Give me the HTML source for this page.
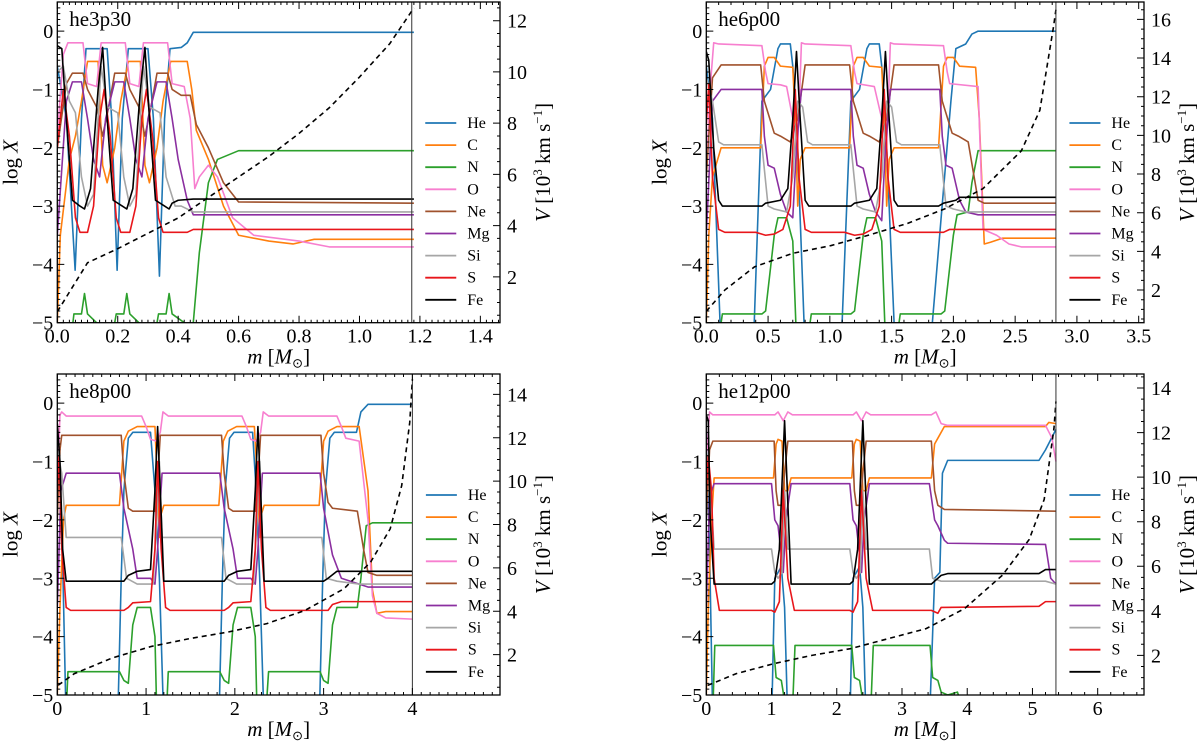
<!DOCTYPE html>
<html><head><meta charset="utf-8"><style>
html,body{margin:0;padding:0;background:#fff;}
svg{display:block;font-family:"Liberation Serif",serif;}
</style></head><body>
<svg id="fig" width="1200" height="744" viewBox="0 0 1200 744" xmlns="http://www.w3.org/2000/svg"></svg>
<script>
const species = ["He","C","N","O","Ne","Mg","Si","S","Fe"];
const colors = ["#1f77b4","#ff7f0e","#2ca02c","#f77fcf","#a0522d","#8b2fa0","#a6a6a6","#e8161b","#000000"];
const yTicks = [0,-1,-2,-3,-4,-5];

// ---- Panel 1: he3p30 ----
const p1_He=[[0,-0.6],[0.03,-1.5],[0.059,-4.1],[0.08,-1.5],[0.095,-0.3],[0.165,-0.3],[0.18,-1.5],[0.198,-4.1],[0.215,-1.5],[0.235,-0.3],[0.3,-0.3],[0.318,-1.5],[0.338,-4.2],[0.355,-1.5],[0.373,-0.3],[0.41,-0.28],[0.43,-0.2],[0.45,-0.02],[1.18,-0.02]];
const p1_C=[[0,-5],[0.01,-3.5],[0.04,-2.2],[0.06,-1.8],[0.08,-1.2],[0.1,-0.52],[0.135,-0.52],[0.15,-2.3],[0.165,-2.6],[0.19,-2.0],[0.21,-1.2],[0.235,-0.52],[0.275,-0.52],[0.29,-2.3],[0.305,-2.6],[0.33,-2.0],[0.35,-1.2],[0.375,-0.52],[0.43,-0.52],[0.445,-1.0],[0.46,-1.7],[0.5,-2.2],[0.55,-3.0],[0.6,-3.5],[0.7,-3.6],[0.78,-3.65],[0.85,-3.57],[1.18,-3.57]];
const p1_N=[[0.045,-5.3],[0.055,-4.85],[0.08,-4.85],[0.09,-4.5],[0.1,-4.85],[0.13,-5.0],[0.14,-5.3],[0.18,-5.3],[0.195,-4.85],[0.22,-4.85],[0.23,-4.5],[0.24,-4.85],[0.27,-5.0],[0.28,-5.3],[0.32,-5.3],[0.335,-4.85],[0.36,-4.85],[0.37,-4.5],[0.38,-4.85],[0.42,-5.0],[0.445,-5.3],[0.47,-3.8],[0.5,-2.6],[0.53,-2.2],[0.6,-2.05],[1.18,-2.05]];
const p1_O=[[0,-1.8],[0.02,-0.4],[0.035,-0.2],[0.085,-0.2],[0.1,-0.9],[0.13,-0.95],[0.145,-0.2],[0.225,-0.2],[0.24,-0.9],[0.27,-0.95],[0.285,-0.2],[0.365,-0.2],[0.38,-0.9],[0.42,-0.95],[0.44,-1.5],[0.455,-2.7],[0.47,-2.5],[0.5,-2.3],[0.53,-2.5],[0.58,-3.2],[0.65,-3.5],[0.8,-3.6],[0.9,-3.7],[1.18,-3.7]];
const p1_Ne=[[0,-2],[0.03,-0.9],[0.05,-0.72],[0.085,-0.72],[0.1,-1.0],[0.13,-1.3],[0.15,-1.8],[0.17,-1.3],[0.19,-0.72],[0.225,-0.72],[0.24,-1.0],[0.27,-1.3],[0.29,-1.8],[0.31,-1.3],[0.33,-0.72],[0.365,-0.72],[0.38,-1.0],[0.41,-1.1],[0.44,-1.1],[0.46,-1.6],[0.5,-2.0],[0.55,-2.6],[0.6,-2.93],[1.18,-2.95]];
const p1_Mg=[[0,-3.5],[0.03,-1.2],[0.05,-0.87],[0.08,-0.87],[0.1,-1.5],[0.12,-2.2],[0.14,-2.5],[0.16,-1.5],[0.19,-0.87],[0.22,-0.87],[0.24,-1.5],[0.26,-2.2],[0.28,-2.5],[0.3,-1.5],[0.33,-0.87],[0.36,-0.87],[0.38,-1.5],[0.4,-2.2],[0.43,-2.9],[0.45,-3.15],[1.18,-3.15]];
const p1_Si=[[0,-0.7],[0.02,-0.6],[0.04,-1.2],[0.06,-1.4],[0.08,-2.5],[0.1,-3.0],[0.12,-2.8],[0.145,-0.6],[0.165,-1.3],[0.2,-1.4],[0.22,-2.5],[0.24,-3.0],[0.26,-2.8],[0.285,-0.6],[0.305,-1.3],[0.34,-1.4],[0.36,-2.5],[0.39,-3.0],[0.41,-3.0],[0.45,-3.1],[1.18,-3.1]];
const p1_S=[[0,-2],[0.02,-1.0],[0.04,-1.8],[0.06,-3.2],[0.075,-3.45],[0.1,-3.45],[0.12,-3.0],[0.14,-1.5],[0.155,-1.0],[0.175,-1.8],[0.195,-3.2],[0.21,-3.45],[0.24,-3.45],[0.26,-3.0],[0.28,-1.5],[0.295,-1.0],[0.315,-1.8],[0.335,-3.2],[0.35,-3.45],[0.385,-3.45],[0.43,-3.45],[0.45,-3.4],[1.18,-3.4]];
const p1_Fe=[[0,-0.25],[0.015,-0.3],[0.03,-1.5],[0.05,-2.9],[0.075,-3.0],[0.09,-3.05],[0.11,-2.7],[0.135,-1.0],[0.15,-0.28],[0.165,-1.5],[0.185,-2.9],[0.215,-3.0],[0.23,-3.05],[0.25,-2.7],[0.275,-1.0],[0.29,-0.28],[0.305,-1.5],[0.325,-2.9],[0.355,-3.0],[0.37,-3.05],[0.38,-2.95],[0.4,-2.9],[0.45,-2.88],[1.18,-2.88]];
const p1_V=[[0,0.64],[0.1,2.55],[0.2,3.1],[0.3,3.7],[0.4,4.3],[0.5,5.1],[0.6,5.9],[0.7,6.7],[0.8,7.6],[0.9,8.6],[1.0,9.8],[1.1,11.1],[1.18,12.5]];
const p1_xTicks=[0,0.2,0.4,0.6,0.8,1.0,1.2,1.4];
const p1_xLabels=["0.0","0.2","0.4","0.6","0.8","1.0","1.2","1.4"];
const p1_vTicks=[2,4,6,8,10,12];

// ---- Panel 2: he6p00 ----
const p2_He=[[0,-0.6],[0.05,-1.5],[0.12,-5.5],[0.38,-5.5],[0.45,-1.2],[0.52,-1.0],[0.58,-0.3],[0.6,-0.22],[0.68,-0.22],[0.7,-0.6],[0.73,-1.5],[0.8,-5.5],[1.09,-5.5],[1.17,-1.2],[1.24,-1.0],[1.3,-0.3],[1.32,-0.22],[1.4,-0.22],[1.42,-0.6],[1.45,-1.5],[1.53,-5.5],[1.81,-5.5],[1.98,-1.2],[2.02,-0.3],[2.1,-0.22],[2.15,-0.05],[2.2,0],[2.83,0]];
const p2_C=[[0,-5],[0.02,-3.5],[0.05,-2.5],[0.12,-2.0],[0.44,-2.0],[0.47,-0.6],[0.5,-0.45],[0.55,-0.45],[0.6,-0.6],[0.7,-0.62],[0.72,-1.5],[0.74,-3.0],[0.76,-2.2],[0.8,-2.0],[1.16,-2.0],[1.19,-0.6],[1.22,-0.45],[1.27,-0.45],[1.32,-0.6],[1.42,-0.62],[1.44,-1.5],[1.46,-3.0],[1.48,-2.2],[1.52,-2.0],[1.88,-2.0],[1.92,-0.6],[1.95,-0.45],[2.0,-0.45],[2.05,-0.6],[2.18,-0.62],[2.21,-1.5],[2.25,-3.65],[2.3,-3.62],[2.4,-3.55],[2.83,-3.55]];
const p2_N=[[0.1,-5.3],[0.13,-4.85],[0.45,-4.85],[0.48,-4.8],[0.55,-3.5],[0.58,-3.2],[0.65,-3.2],[0.7,-3.6],[0.73,-5.3],[0.82,-5.3],[0.85,-4.85],[1.17,-4.85],[1.2,-4.8],[1.27,-3.5],[1.3,-3.2],[1.37,-3.2],[1.42,-3.6],[1.45,-5.3],[1.54,-5.3],[1.57,-4.85],[1.9,-4.85],[1.93,-4.8],[2.0,-3.5],[2.03,-3.15],[2.12,-3.1],[2.15,-2.6],[2.2,-2.05],[2.83,-2.05]];
const p2_O=[[0,-2.5],[0.03,-1],[0.06,-0.2],[0.1,-0.22],[0.45,-0.25],[0.48,-0.7],[0.5,-0.9],[0.6,-0.92],[0.65,-0.95],[0.7,-1.5],[0.74,-2.0],[0.77,-0.2],[0.8,-0.22],[1.17,-0.25],[1.2,-0.7],[1.22,-0.9],[1.36,-0.95],[1.42,-1.5],[1.46,-2.0],[1.49,-0.2],[1.52,-0.22],[1.92,-0.25],[1.95,-0.7],[1.97,-0.9],[2.2,-0.95],[2.24,-3.4],[2.35,-3.5],[2.45,-3.65],[2.55,-3.7],[2.83,-3.7]];
const p2_Ne=[[0,-2.5],[0.05,-0.8],[0.12,-0.58],[0.44,-0.58],[0.47,-1.2],[0.55,-1.75],[0.6,-1.8],[0.68,-1.9],[0.74,-1.5],[0.8,-0.58],[1.16,-0.58],[1.19,-1.2],[1.27,-1.75],[1.32,-1.8],[1.4,-1.9],[1.46,-1.5],[1.52,-0.58],[1.88,-0.58],[1.91,-1.2],[1.99,-1.75],[2.04,-1.8],[2.12,-1.9],[2.2,-2.9],[2.25,-2.95],[2.83,-2.95]];
const p2_Mg=[[0,-3.5],[0.05,-1.2],[0.12,-1.0],[0.45,-1.0],[0.47,-1.8],[0.5,-2.3],[0.55,-2.35],[0.6,-2.8],[0.65,-3.1],[0.7,-3.2],[0.73,-2.0],[0.77,-1.0],[1.17,-1.0],[1.19,-1.8],[1.22,-2.3],[1.27,-2.35],[1.32,-2.8],[1.37,-3.1],[1.42,-3.25],[1.45,-2.0],[1.49,-1.0],[1.89,-1.0],[1.91,-1.8],[1.94,-2.3],[1.99,-2.35],[2.05,-2.9],[2.1,-3.1],[2.2,-3.15],[2.83,-3.15]];
const p2_Si=[[0,-0.8],[0.05,-1.2],[0.1,-1.9],[0.14,-1.95],[0.45,-1.95],[0.5,-3.0],[0.55,-3.05],[0.65,-3.1],[0.7,-2.5],[0.74,-1.2],[0.78,-1.3],[0.82,-1.9],[0.86,-1.95],[1.17,-1.95],[1.22,-3.0],[1.27,-3.05],[1.37,-3.1],[1.42,-2.5],[1.46,-1.2],[1.5,-1.3],[1.54,-1.9],[1.58,-1.95],[1.89,-1.95],[1.94,-3.0],[2.0,-3.05],[2.1,-3.1],[2.83,-3.1]];
const p2_S=[[0,-1.6],[0.02,-0.9],[0.05,-2.5],[0.1,-3.4],[0.15,-3.45],[0.4,-3.45],[0.48,-3.5],[0.55,-3.48],[0.62,-3.4],[0.68,-3.0],[0.72,-1.0],[0.75,-2.5],[0.8,-3.4],[0.85,-3.45],[1.12,-3.45],[1.2,-3.5],[1.27,-3.48],[1.34,-3.4],[1.4,-3.0],[1.44,-1.0],[1.47,-2.5],[1.52,-3.4],[1.57,-3.45],[1.84,-3.45],[1.92,-3.45],[1.97,-3.4],[2.83,-3.4]];
const p2_Fe=[[0,-0.35],[0.02,-0.5],[0.06,-2.0],[0.1,-2.9],[0.13,-3.0],[0.45,-3.0],[0.48,-2.95],[0.6,-2.9],[0.66,-2.7],[0.7,-1.5],[0.73,-0.35],[0.76,-1.5],[0.8,-2.9],[0.83,-3.0],[1.17,-3.0],[1.2,-2.95],[1.32,-2.9],[1.38,-2.7],[1.42,-1.5],[1.45,-0.35],[1.48,-1.5],[1.52,-2.9],[1.55,-3.0],[1.88,-3.0],[1.92,-2.95],[2.02,-2.9],[2.05,-2.85],[2.83,-2.85]];
const p2_V=[[0,0.9],[0.15,2.0],[0.39,3.2],[0.7,3.9],[1.01,4.3],[1.32,4.85],[1.63,5.45],[1.93,6.2],[2.24,7.25],[2.55,9.2],[2.7,11.3],[2.81,15.6],[2.83,16.5]];
const p2_xTicks=[0,0.5,1.0,1.5,2.0,2.5,3.0,3.5];
const p2_xLabels=["0.0","0.5","1.0","1.5","2.0","2.5","3.0","3.5"];
const p2_vTicks=[2,4,6,8,10,12,14,16];

// ---- Panel 3: he8p00 ----
const p3_He=[[0,-0.6],[0.05,-2],[0.1,-5.5],[0.68,-5.5],[0.72,-3],[0.75,-1.5],[0.8,-0.6],[0.85,-0.5],[1.05,-0.5],[1.1,-1.5],[1.15,-3],[1.2,-5.5],[1.82,-5.5],[1.86,-3],[1.89,-1.5],[1.94,-0.6],[1.99,-0.5],[2.2,-0.5],[2.24,-1.5],[2.28,-3],[2.33,-5.5],[2.95,-5.5],[2.99,-3],[3.02,-1.5],[3.07,-0.6],[3.12,-0.5],[3.37,-0.5],[3.42,-0.15],[3.5,-0.02],[4.0,-0.02]];
const p3_C=[[0,-5],[0.03,-3.5],[0.07,-2.0],[0.1,-1.75],[0.7,-1.75],[0.75,-0.65],[0.8,-0.48],[0.9,-0.4],[1.1,-0.4],[1.13,-1.5],[1.15,-2.3],[1.17,-1.9],[1.2,-1.75],[1.82,-1.75],[1.87,-0.65],[1.92,-0.48],[2.02,-0.4],[2.22,-0.4],[2.26,-1.5],[2.28,-2.3],[2.3,-1.9],[2.33,-1.75],[2.95,-1.75],[3.0,-0.65],[3.05,-0.48],[3.15,-0.4],[3.4,-0.4],[3.5,-1.5],[3.55,-3.2],[3.6,-3.6],[3.7,-3.57],[4.0,-3.57]];
const p3_N=[[0.1,-5.3],[0.12,-4.6],[0.7,-4.6],[0.75,-4.75],[0.8,-4.8],[0.85,-3.8],[0.9,-3.5],[1.05,-3.5],[1.1,-4.0],[1.12,-5.3],[1.23,-5.3],[1.25,-4.6],[1.83,-4.6],[1.88,-4.75],[1.93,-4.8],[1.98,-3.8],[2.03,-3.5],[2.18,-3.5],[2.23,-4.0],[2.25,-5.3],[2.35,-5.3],[2.38,-4.6],[2.96,-4.6],[3.0,-4.75],[3.05,-4.8],[3.1,-3.8],[3.15,-3.5],[3.38,-3.5],[3.42,-3.0],[3.48,-2.1],[3.55,-2.05],[4.0,-2.05]];
const p3_O=[[0,-1.5],[0.03,-0.2],[0.05,-0.15],[0.1,-0.22],[0.95,-0.22],[1.0,-0.4],[1.05,-0.62],[1.12,-0.65],[1.16,-0.5],[1.19,-0.15],[1.25,-0.22],[2.08,-0.22],[2.13,-0.4],[2.18,-0.62],[2.24,-0.65],[2.29,-0.5],[2.32,-0.15],[2.38,-0.22],[3.15,-0.22],[3.2,-0.4],[3.25,-0.6],[3.4,-0.65],[3.5,-2.0],[3.55,-3.3],[3.6,-3.6],[3.7,-3.68],[4.0,-3.7]];
const p3_Ne=[[0,-2],[0.03,-0.8],[0.05,-0.55],[0.72,-0.55],[0.75,-1.2],[0.8,-1.8],[0.85,-1.85],[1.1,-1.85],[1.13,-1.3],[1.16,-0.55],[1.85,-0.55],[1.88,-1.2],[1.93,-1.8],[1.98,-1.85],[2.23,-1.85],[2.26,-1.3],[2.29,-0.55],[2.97,-0.55],[3.0,-1.2],[3.05,-1.7],[3.1,-1.8],[3.38,-1.85],[3.45,-2.5],[3.5,-2.9],[3.6,-2.95],[4.0,-2.95]];
const p3_Mg=[[0,-3.5],[0.04,-1.5],[0.1,-1.2],[0.7,-1.2],[0.75,-1.8],[0.85,-2.5],[0.9,-3.0],[1.05,-3.0],[1.1,-3.1],[1.13,-2.5],[1.18,-1.2],[1.83,-1.2],[1.88,-1.8],[1.98,-2.5],[2.03,-3.0],[2.18,-3.0],[2.23,-3.1],[2.26,-2.5],[2.31,-1.2],[2.96,-1.2],[3.0,-1.8],[3.1,-2.6],[3.2,-3.0],[3.4,-3.1],[3.5,-3.15],[4.0,-3.15]];
const p3_Si=[[0,-0.8],[0.05,-1.2],[0.1,-2.3],[0.72,-2.3],[0.78,-3.0],[0.9,-3.1],[1.08,-3.1],[1.12,-2.0],[1.15,-1.0],[1.18,-2.3],[1.85,-2.3],[1.9,-3.0],[2.02,-3.1],[2.21,-3.1],[2.25,-2.0],[2.28,-1.0],[2.31,-2.3],[2.98,-2.3],[3.03,-3.0],[3.15,-3.05],[3.4,-3.1],[4.0,-3.1]];
const p3_S=[[0,-1.5],[0.02,-0.9],[0.05,-2.5],[0.1,-3.5],[0.15,-3.55],[0.75,-3.55],[0.8,-3.5],[0.85,-3.42],[1.05,-3.4],[1.1,-2.5],[1.13,-1.0],[1.17,-2.5],[1.22,-3.5],[1.27,-3.55],[1.88,-3.55],[1.93,-3.5],[1.98,-3.42],[2.18,-3.4],[2.23,-2.5],[2.26,-1.0],[2.3,-2.5],[2.35,-3.5],[2.4,-3.55],[3.05,-3.55],[3.1,-3.45],[3.2,-3.4],[4.0,-3.4]];
const p3_Fe=[[0,-0.35],[0.03,-1],[0.06,-2.5],[0.1,-3.05],[0.75,-3.05],[0.8,-2.95],[0.9,-2.88],[1.05,-2.85],[1.1,-1.5],[1.13,-0.4],[1.16,-1.5],[1.2,-3.05],[1.88,-3.05],[1.93,-2.95],[2.03,-2.88],[2.18,-2.85],[2.23,-1.5],[2.26,-0.4],[2.29,-1.5],[2.33,-3.05],[3.0,-3.05],[3.05,-3.0],[3.15,-2.88],[4.0,-2.88]];
const p3_V=[[0.01,0.59],[0.19,1.12],[0.62,1.85],[1.06,2.38],[1.49,2.74],[1.92,3.04],[2.36,3.43],[2.79,4.04],[3.23,5.04],[3.53,6.27],[3.75,7.8],[3.88,9.8],[3.97,12.7],[4.0,14.7]];
const p3_xTicks=[0,1,2,3,4];
const p3_xLabels=["0","1","2","3","4"];
const p3_vTicks=[2,4,6,8,10,12,14];

// ---- Panel 4: he12p00 ----
const p4_He=[[0,-0.5],[0.05,-2.5],[0.1,-5.5],[1.0,-5.5],[1.05,-3.0],[1.1,-2.9],[1.15,-2.8],[1.2,-3.5],[1.25,-5.5],[2.2,-5.5],[2.25,-3.0],[2.3,-2.9],[2.35,-2.8],[2.4,-3.5],[2.45,-5.5],[3.42,-5.5],[3.5,-3.0],[3.58,-2.9],[3.62,-1.2],[3.7,-0.98],[5.1,-0.98],[5.2,-0.8],[5.36,-0.45]];
const p4_C=[[0,-5],[0.03,-3.5],[0.08,-2.0],[0.12,-1.28],[1.03,-1.28],[1.07,-0.7],[1.1,-0.62],[1.16,-0.65],[1.2,-1.5],[1.25,-1.5],[1.3,-1.28],[2.23,-1.28],[2.27,-0.7],[2.3,-0.62],[2.36,-0.65],[2.4,-1.5],[2.45,-1.5],[2.5,-1.28],[3.45,-1.28],[3.5,-0.7],[3.55,-0.6],[3.65,-0.4],[5.2,-0.4],[5.25,-0.33],[5.36,-0.35]];
const p4_N=[[0.1,-5.3],[0.13,-4.15],[1.03,-4.15],[1.07,-4.7],[1.15,-4.75],[1.2,-5.1],[1.25,-5.3],[1.32,-5.3],[1.36,-4.15],[2.23,-4.15],[2.27,-4.7],[2.35,-4.75],[2.4,-5.1],[2.45,-5.3],[2.52,-5.3],[2.56,-4.15],[3.43,-4.15],[3.47,-4.7],[3.55,-4.75],[3.6,-4.95],[3.7,-5.0],[3.85,-4.95],[3.95,-5.3]];
const p4_O=[[0,-1],[0.05,-0.15],[0.1,-0.2],[1.05,-0.2],[1.1,-0.15],[1.18,-0.3],[1.25,-0.15],[1.32,-0.2],[2.25,-0.2],[2.3,-0.15],[2.38,-0.3],[2.45,-0.15],[2.52,-0.2],[3.45,-0.2],[3.52,-0.15],[3.6,-0.35],[3.7,-0.38],[5.2,-0.38],[5.3,-0.6],[5.36,-1.0]];
const p4_Ne=[[0,-2],[0.05,-0.8],[0.1,-0.65],[1.04,-0.65],[1.07,-1.5],[1.1,-1.75],[1.16,-1.75],[1.2,-1.2],[1.25,-0.65],[2.24,-0.65],[2.27,-1.5],[2.3,-1.75],[2.36,-1.75],[2.4,-1.2],[2.45,-0.65],[3.45,-0.65],[3.5,-1.5],[3.55,-1.75],[3.65,-1.82],[5.36,-1.85]];
const p4_Mg=[[0,-3.5],[0.05,-1.6],[0.12,-1.38],[1.0,-1.38],[1.05,-2.0],[1.1,-2.1],[1.18,-2.9],[1.22,-2.0],[1.3,-1.38],[2.2,-1.38],[2.25,-2.0],[2.3,-2.1],[2.38,-2.9],[2.42,-2.0],[2.5,-1.38],[3.42,-1.38],[3.5,-2.0],[3.55,-2.1],[3.65,-2.35],[3.7,-2.4],[5.2,-2.42],[5.28,-3.0],[5.36,-3.1]];
const p4_Si=[[0,-0.8],[0.05,-1.2],[0.12,-2.5],[1.0,-2.5],[1.05,-2.9],[1.1,-3.0],[1.16,-2.9],[1.2,-1.5],[1.25,-2.5],[2.2,-2.5],[2.25,-2.9],[2.3,-3.0],[2.36,-2.9],[2.4,-1.5],[2.45,-2.5],[3.42,-2.5],[3.47,-3.0],[3.6,-3.05],[5.2,-3.05],[5.36,-3.1]];
const p4_S=[[0,-1.5],[0.03,-0.9],[0.08,-1.5],[0.12,-3.0],[0.2,-3.55],[1.0,-3.55],[1.05,-3.58],[1.12,-3.4],[1.18,-1.5],[1.25,-3.0],[1.35,-3.55],[2.2,-3.55],[2.25,-3.58],[2.32,-3.4],[2.38,-1.5],[2.45,-3.0],[2.55,-3.55],[3.45,-3.55],[3.55,-3.6],[3.6,-3.5],[5.1,-3.48],[5.2,-3.4],[5.36,-3.4]];
const p4_Fe=[[0,-0.2],[0.03,-0.3],[0.06,-2.0],[0.12,-3.1],[1.0,-3.1],[1.05,-3.05],[1.12,-2.5],[1.2,-0.3],[1.26,-2.0],[1.3,-3.1],[2.2,-3.1],[2.25,-3.05],[2.32,-2.5],[2.4,-0.3],[2.46,-2.0],[2.5,-3.1],[3.45,-3.1],[3.5,-3.05],[3.6,-2.95],[3.7,-2.92],[5.1,-2.92],[5.2,-2.85],[5.36,-2.85]];
const p4_V=[[0.02,0.65],[0.46,1.18],[1.04,1.63],[1.62,2.0],[2.21,2.3],[2.79,2.75],[3.37,3.2],[3.96,4.1],[4.54,5.6],[4.95,7.2],[5.18,9.0],[5.33,12.2],[5.36,13.4]];
const p4_xTicks=[0,1,2,3,4,5,6];
const p4_xLabels=["0","1","2","3","4","5","6"];
const p4_vTicks=[2,4,6,8,10,12,14];

const NS="http://www.w3.org/2000/svg";
const svg=document.getElementById('fig');
function mk(tag,attrs,parent){const e=document.createElementNS(NS,tag);for(const k in attrs)e.setAttribute(k,attrs[k]);(parent||svg).appendChild(e);return e;}

const panels=[
 {id:"he3p30",L:57.3,R:500,T:2,B:322.7,xmax:1.465,vmin:0.21,vmax:12.73,vline:1.173,xminor:0.02,xT:p1_xTicks,xL:p1_xLabels,vT:p1_vTicks,V:p1_V,series:[p1_He,p1_C,p1_N,p1_O,p1_Ne,p1_Mg,p1_Si,p1_S,p1_Fe]},
 {id:"he6p00",L:706.3,R:1144,T:2,B:322.7,xmax:3.543,vmin:0.31,vmax:16.9,vline:2.83,xminor:0.1,xT:p2_xTicks,xL:p2_xLabels,vT:p2_vTicks,V:p2_V,series:[p2_He,p2_C,p2_N,p2_O,p2_Ne,p2_Mg,p2_Si,p2_S,p2_Fe]},
 {id:"he8p00",L:57.3,R:500,T:374,B:695,xmax:4.987,vmin:0.14,vmax:14.94,vline:4.0,xminor:0.1,xT:p3_xTicks,xL:p3_xLabels,vT:p3_vTicks,V:p3_V,series:[p3_He,p3_C,p3_N,p3_O,p3_Ne,p3_Mg,p3_Si,p3_S,p3_Fe]},
 {id:"he12p00",L:706.3,R:1144,T:374,B:695,xmax:6.71,vmin:0.22,vmax:14.63,vline:5.36,xminor:0.2,xT:p4_xTicks,xL:p4_xLabels,vT:p4_vTicks,V:p4_V,series:[p4_He,p4_C,p4_N,p4_O,p4_Ne,p4_Mg,p4_Si,p4_S,p4_Fe]}
];
const YMAX=0.5, YMIN=-5;

panels.forEach((p,pi)=>{
 const g=mk('g',{});
 
 
 const xs=m=>p.L+(m/p.xmax)*(p.R-p.L);
 const ys=v=>p.B-(v-YMIN)/(YMAX-YMIN)*(p.B-p.T);
 const vs=v=>p.B-(v-p.vmin)/(p.vmax-p.vmin)*(p.B-p.T);
 const cid='clip'+pi;
 const cp=mk('clipPath',{id:cid},g);
 mk('rect',{x:p.L,y:p.T,width:p.R-p.L,height:p.B-p.T},cp);
 const plot=mk('g',{'clip-path':'url(#'+cid+')'},g);
 p.series.forEach((s,si)=>{
  const d=s.map((pt,i)=>(i?'L':'M')+xs(pt[0]).toFixed(2)+' '+ys(pt[1]).toFixed(2)).join(' ');
  const path=mk('path',{d:d,fill:'none',stroke:colors[si],'stroke-width':1.6,'stroke-linejoin':'round'},plot);
  
  
 });
 const vd=p.V.map((pt,i)=>(i?'L':'M')+xs(pt[0]).toFixed(2)+' '+vs(pt[1]).toFixed(2)).join(' ');
 const vp=mk('path',{d:vd,fill:'none',stroke:'#000','stroke-width':1.6,'stroke-dasharray':'5,4'},plot);
 
 
 const vl=mk('line',{x1:xs(p.vline),x2:xs(p.vline),y1:p.T,y2:p.B,stroke:'#333','stroke-width':1},g);
 
 
 const fr=mk('rect',{x:p.L,y:p.T,width:p.R-p.L,height:p.B-p.T,fill:'none',stroke:'#000','stroke-width':1.3},g);
 
 
 let td='';
 for(let m=0;m<=p.xmax+1e-9;m+=p.xminor){const x=xs(m);td+=`M${x} ${p.B}v-3M${x} ${p.T}v3`;}
 p.xT.forEach(m=>{const x=xs(m);td+=`M${x} ${p.B}v-7M${x} ${p.T}v7`;});
 for(let v=-5;v<=0.5+1e-9;v+=0.1){const y=ys(v);td+=`M${p.L} ${y}h3`;}
 yTicks.forEach(v=>{td+=`M${p.L} ${ys(v)}h7`;});
 for(let v=Math.ceil(p.vmin*2)/2;v<=p.vmax;v+=0.5){td+=`M${p.R} ${vs(v)}h-3`;}
 p.vT.forEach(v=>{td+=`M${p.R} ${vs(v)}h-7`;});
 mk('path',{d:td,stroke:'#000','stroke-width':1,fill:'none'},g);
 p.xT.forEach((m,i)=>{const t=mk('text',{x:xs(m),y:p.B+20,'text-anchor':'middle','font-size':20},g);t.textContent=p.xL[i];
  
  });
 yTicks.forEach(v=>{const t=mk('text',{x:p.L-4,y:ys(v)+7,'text-anchor':'end','font-size':20},g);t.textContent=v===0?'0':'\u2212'+Math.abs(v);
  
  });
 p.vT.forEach(v=>{const t=mk('text',{x:p.R+7,y:vs(v)+7,'text-anchor':'start','font-size':20},g);t.textContent=String(v);
  
  });
 const tt=mk('text',{x:p.L+12,y:p.T+24,'font-size':21},g);tt.textContent=p.id;
 
 
 const xt=mk('text',{x:(p.L+p.R)/2,y:p.B+41,'text-anchor':'middle','font-size':21},g);
 xt.innerHTML='<tspan font-style="italic">m</tspan> [<tspan font-style="italic">M</tspan><tspan font-size="13" dy="4">\u2299</tspan><tspan dy="-4">]</tspan>';
 
 
 const yt=mk('text',{transform:`translate(${p.L-40},${(p.T+p.B)/2}) rotate(-90)`,'text-anchor':'middle','font-size':21},g);
 yt.innerHTML='log <tspan font-style="italic">X</tspan>';
 
 
 const rt=mk('text',{transform:`translate(${p.R+50},${(p.T+p.B)/2}) rotate(-90)`,'text-anchor':'middle','font-size':21},g);
 rt.innerHTML='<tspan font-style="italic">V</tspan> [10<tspan font-size="13" dy="-8">3</tspan><tspan dy="8"> km s</tspan><tspan font-size="13" dy="-8">\u22121</tspan><tspan dy="8">]</tspan>';
 
 
 const lg=mk('g',{},g);
 
 
 const lx=xs(p.vline)+13.5, ly0=p.T+121;
 species.forEach((sp,i)=>{
  const y=ly0+i*22.1;
  const e=mk('g',{},lg);
  
  
  mk('line',{x1:lx,x2:lx+31,y1:y,y2:y,stroke:colors[i],'stroke-width':1.8},e);
  const t=mk('text',{x:lx+42,y:y+5,'font-size':16},e);t.textContent=sp;
 });
});
</script>
</body></html>
